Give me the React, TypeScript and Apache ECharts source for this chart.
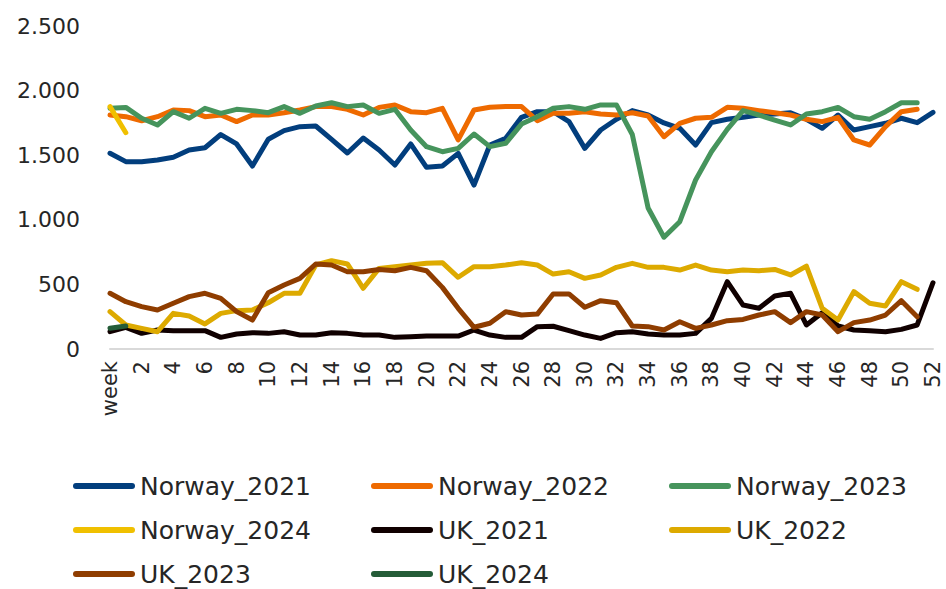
import React, { useEffect, useRef } from "react";
import * as echarts from "echarts";

const weeks: string[] = ["week", ...Array.from({ length: 52 }, (_, i) => String(i + 1))];

const norway2021 = [1515,1450,1450,1463,1484,1540,1558,1660,1587,1416,1623,1690,1721,1726,1623,1517,1633,1540,1424,1587,1406,1416,1514,1269,1579,1631,1793,1837,1837,1760,1553,1695,1778,1845,1811,1750,1708,1579,1752,1778,1793,1811,1819,1829,1778,1708,1811,1695,1721,1747,1786,1752,1832];
const norway2022 = [1811,1798,1767,1798,1850,1845,1798,1811,1760,1811,1811,1829,1850,1876,1876,1855,1811,1870,1889,1837,1829,1863,1618,1850,1871,1876,1876,1767,1824,1824,1837,1819,1811,1829,1803,1643,1747,1786,1793,1871,1863,1845,1829,1811,1778,1760,1793,1618,1579,1721,1837,1855];
const norway2023 = [1863,1870,1786,1734,1837,1786,1863,1824,1855,1845,1829,1876,1824,1881,1906,1876,1889,1824,1855,1695,1566,1527,1553,1664,1566,1592,1741,1798,1863,1876,1855,1889,1889,1660,1091,865,985,1308,1527,1700,1845,1811,1772,1734,1819,1837,1870,1798,1778,1837,1906,1906];
const norway2024 = [1876, 1674];
const uk2021 = [134,168,121,147,142,142,142,90,116,126,121,134,108,108,126,121,108,108,90,95,100,100,100,147,108,90,90,173,176,142,108,82,126,134,116,108,108,121,237,521,340,315,410,431,186,281,178,147,142,134,152,186,513];
const uk2022 = [289,186,160,134,276,255,194,276,297,302,358,431,431,650,684,658,470,624,637,650,663,668,555,637,637,650,668,650,580,598,547,573,632,663,632,632,611,650,611,598,611,606,616,573,642,315,224,444,354,333,521,462];
const uk2023 = [431,366,328,302,354,405,431,392,289,224,436,495,547,658,650,598,598,616,606,632,606,477,315,168,199,289,263,270,426,426,323,374,358,178,173,147,211,160,186,219,229,263,289,204,289,263,134,204,224,263,374,250];
const uk2024 = [160, 178];

const seriesNames = ["Norway_2021","Norway_2022","Norway_2023","Norway_2024","UK_2021","UK_2022","UK_2023","UK_2024"];
const seriesData = [norway2021, norway2022, norway2023, norway2024, uk2021, uk2022, uk2023, uk2024];
const seriesColors = ["#023E7D","#EE6A00","#46945C","#F0C000","#100000","#DDAA00","#8F3D00","#245C38"];

const yTicks = { min: 0, max: 2500, interval: 500 };

const fmt = (v: number) => String(v).replace(/\B(?=(\d{3})+(?!\d))/g, ".");

export default function App() {
  const ref = useRef<HTMLDivElement>(null);
  useEffect(() => {
    if (!ref.current) return;
    const chart = echarts.init(ref.current, undefined, { renderer: "svg" });
    const font = "DejaVu Sans";
    chart.setOption({
      animation: false,
      backgroundColor: "#ffffff",
      grid: { left: 110, right: 13, top: 26, bottom: 240, containLabel: false },
      xAxis: {
        type: "category",
        data: weeks,
        boundaryGap: false,
        axisLine: { show: true, lineStyle: { color: "#d9d9d9", width: 2 } },
        axisTick: { show: false },
        axisLabel: {
          interval: (index: number) => index % 2 === 0,
          rotate: 90,
          margin: 12,
          fontFamily: font,
          fontSize: 21,
          color: "#262626",
        },
        splitLine: { show: false },
      },
      yAxis: {
        type: "value",
        min: yTicks.min,
        max: yTicks.max,
        interval: yTicks.interval,
        axisLine: { show: false },
        axisTick: { show: false },
        splitLine: { show: false },
        axisLabel: {
          margin: 30,
          fontFamily: font,
          fontSize: 22,
          color: "#262626",
          formatter: (v: number) => fmt(v),
        },
      },
      legend: {
        data: seriesNames,
        left: 73,
        top: 469,
        width: 900,
        padding: 0,
        itemGap: 10,
        itemWidth: 62,
        itemHeight: 6,
        icon: "path://M3,0 H59 A3,3 0 0 1 59,6 H3 A3,3 0 0 1 3,0 Z",
        textStyle: {
          fontFamily: font,
          fontSize: 25,
          color: "#262626",
          width: 221,
          lineHeight: 34,
          padding: [0, 0, 0, 0],
        },
      },
      series: seriesNames.map((name, i) => ({
        name,
        type: "line",
        data: seriesData[i],
        showSymbol: false,
        symbol: "none",
        color: seriesColors[i],
        lineStyle: { width: 5, color: seriesColors[i], cap: "round", join: "round" },
      })),
    });
    return () => chart.dispose();
  }, []);
  return (
    <div
      ref={ref}
      style={{ position: "absolute", left: 0, top: 0, width: 946, height: 589 }}
    />
  );
}
